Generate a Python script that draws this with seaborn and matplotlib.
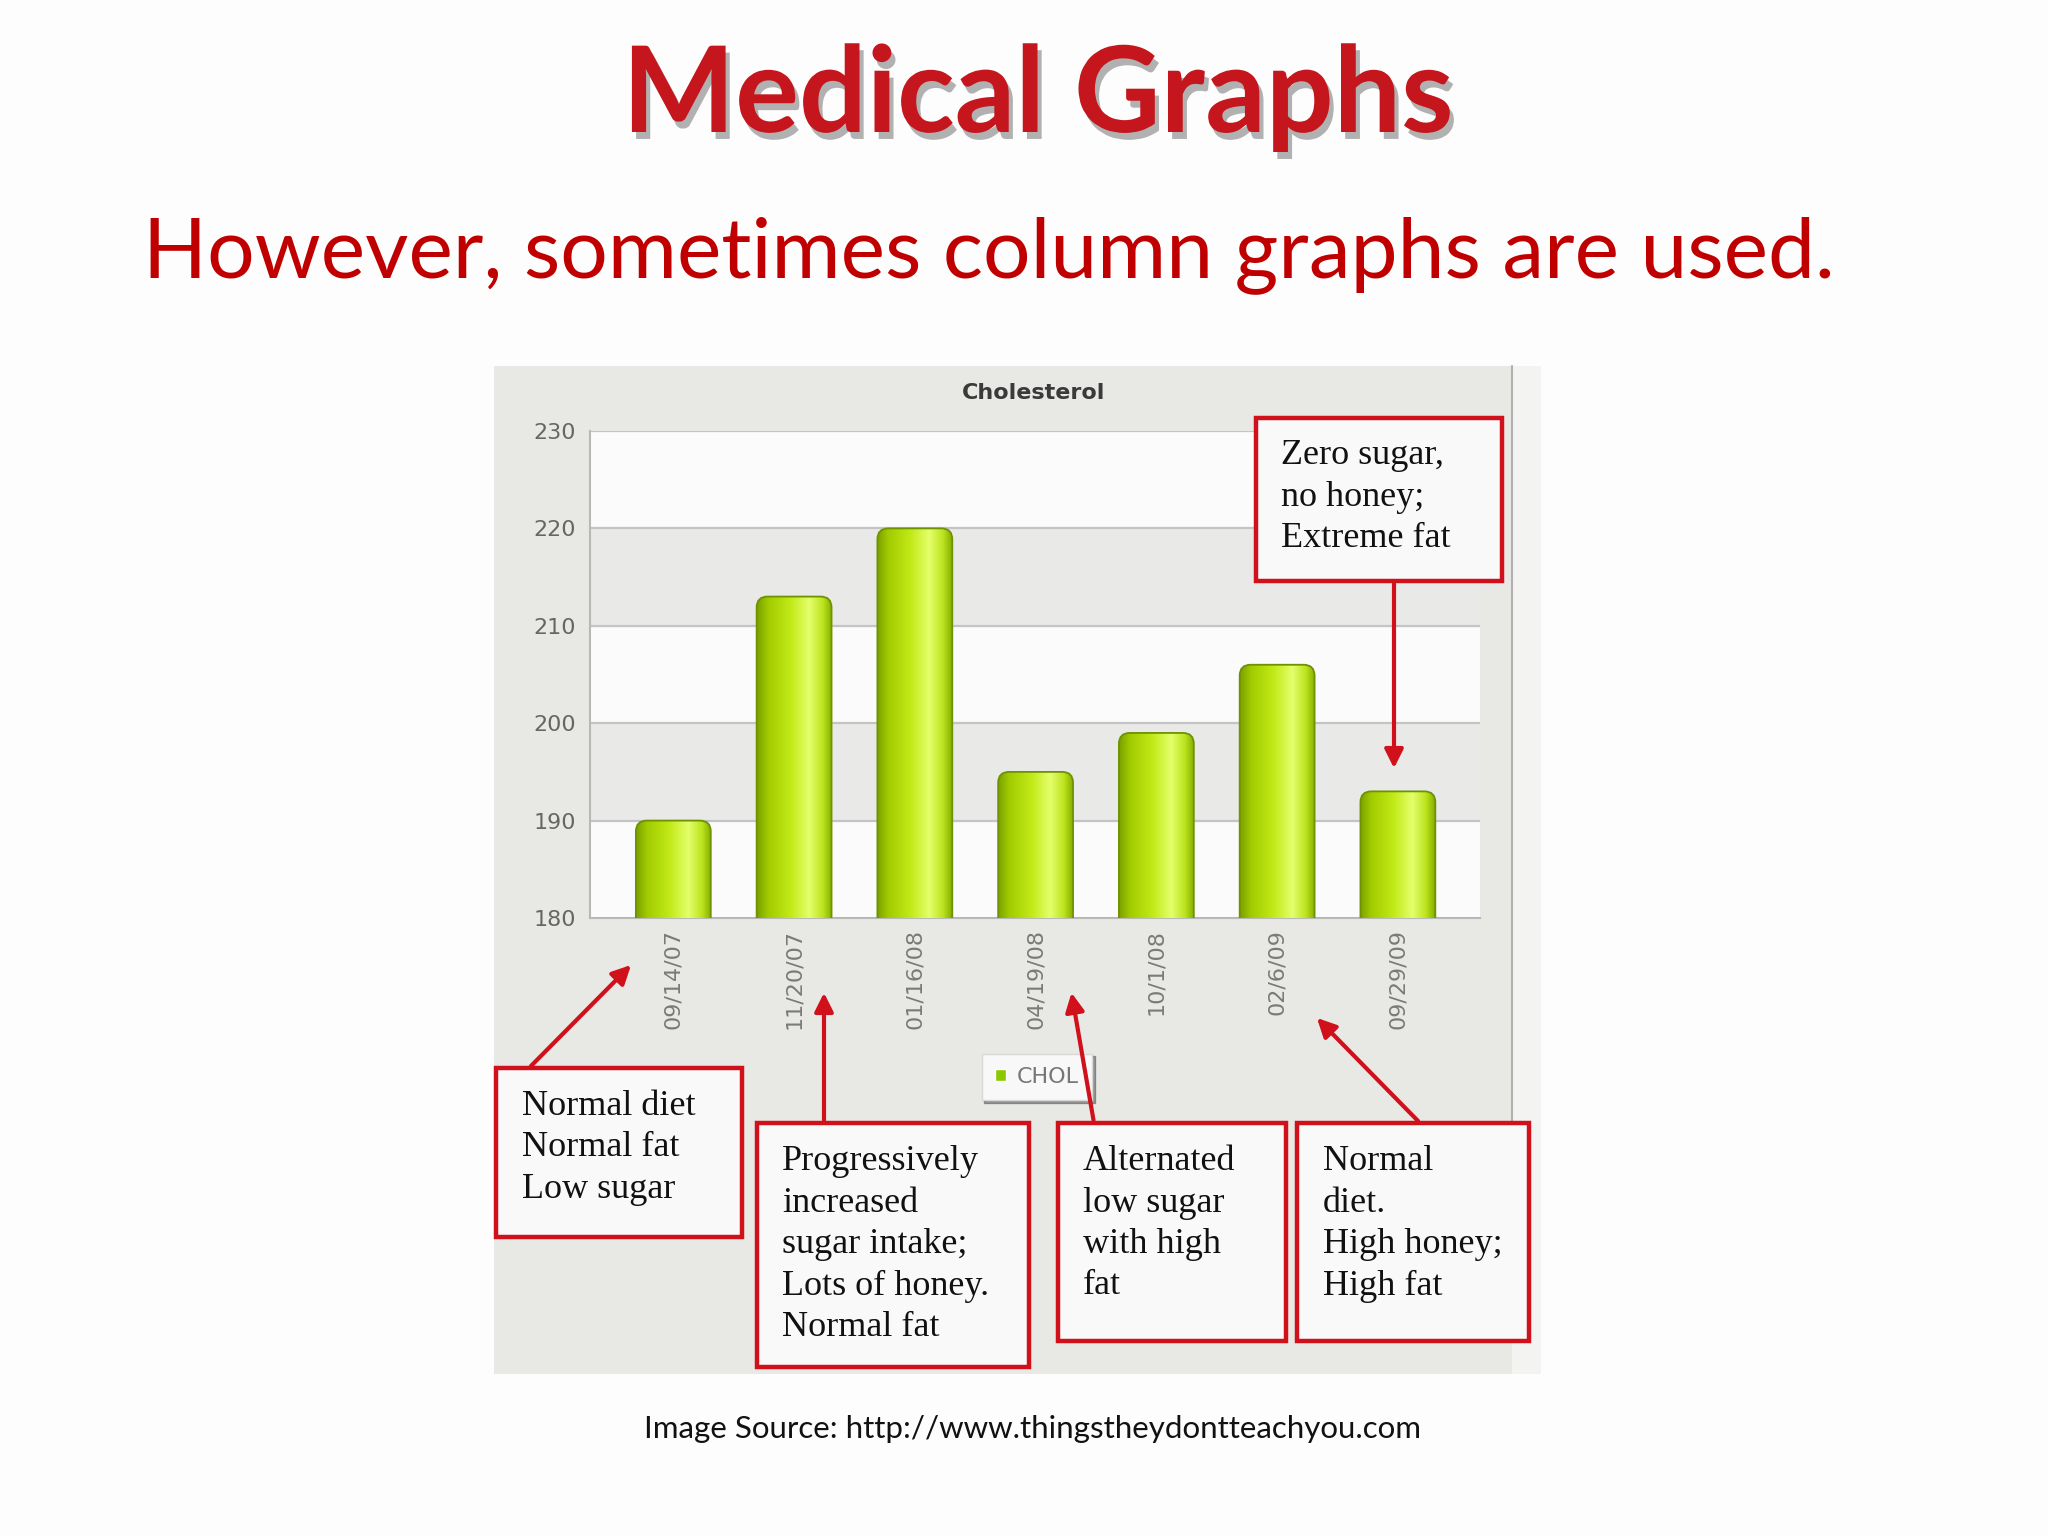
import numpy as np
import pandas as pd
import matplotlib
matplotlib.use("Agg")
import matplotlib.pyplot as plt
import matplotlib.patheffects as pe
import seaborn as sns
from matplotlib.patches import Rectangle, FancyBboxPatch, FancyArrowPatch, Patch
from matplotlib.colors import LinearSegmentedColormap

# Chart data
dates = ['09/14/07', '11/20/07', '01/16/08', '04/19/08', '10/1/08', '02/6/09', '09/29/09']
chol = [190, 213, 220, 195, 199, 206, 193]
y_ticks = [180, 190, 200, 210, 220, 230]

# Callout texts
notes = [
    'Normal diet\nNormal fat\nLow sugar',
    'Progressively\nincreased\nsugar intake;\nLots of honey.\nNormal fat',
    'Alternated\nlow sugar\nwith high\nfat',
    'Normal\ndiet.\nHigh honey;\nHigh fat',
    'Zero sugar,\nno honey;\nExtreme fat',
]

W, H = 2048, 1536


def fx(x):
    return x / W


def fy(y):
    return 1 - y / H


sns.set_style('white')
fig = plt.figure(figsize=(20.48, 15.36), dpi=100, facecolor='#fdfdfd')

# slide titles
fig.text(fx(1038), fy(98), 'Medical Graphs', ha='center', va='center',
         family='Lato', fontweight='bold', fontsize=86, color='#c4161c',
         path_effects=[pe.SimplePatchShadow(offset=(3, -5), shadow_rgbFace='#555555', alpha=0.45),
                       pe.Normal()])
fig.text(fx(989), fy(255), 'However, sometimes column graphs are used.', ha='center', va='center',
         family='Lato', fontsize=60.5, color='#c00000')
fig.text(fx(1032), fy(1429), 'Image Source: http://www.thingstheydontteachyou.com', ha='center',
         va='center', family='Lato', fontsize=22.5, color='#111111')

# gray chart panel
fig.add_artist(Rectangle((fx(494), fy(1374)), 1018 / W, 1008 / H, transform=fig.transFigure,
                         fc='#e8e8e4', ec='none', zorder=-2))
fig.add_artist(Rectangle((fx(1512), fy(1374)), 29 / W, 1008 / H, transform=fig.transFigure,
                         fc='#f3f3f1', ec='none', zorder=-2))
fig.add_artist(plt.Line2D([fx(1512), fx(1512)], [fy(366), fy(1123)], transform=fig.transFigure,
                          color='#b0b0b0', lw=1.5, zorder=-1))

ax = fig.add_axes([fx(590), fy(918), 890 / W, 487 / H])
ax.set_facecolor('#fbfbfb')

df = pd.DataFrame({'date': dates, 'chol': chol})
sns.barplot(data=df, x='date', y='chol', color='#b5dc14', width=0.62, ax=ax, zorder=3)
bars = list(ax.patches)

# alternating bands + grid
for lo in [190, 210]:
    ax.axhspan(lo, lo + 10, facecolor='#e9e9e7', edgecolor='none', zorder=1)
for yv in y_ticks[1:]:
    ax.axhline(yv, color='#c4c4c4', lw=1.6, zorder=1.5)

# cylinder-like gradient with rounded tops
grad = LinearSegmentedColormap.from_list('bar', [
    (0.0, '#7aa000'), (0.15, '#a2cc00'), (0.45, '#c2ea18'),
    (0.7, '#e4ff6c'), (0.88, '#bce41e'), (1.0, '#86b000')])
img = grad(np.linspace(0, 1, 256))[np.newaxis, :, :]
for p in bars:
    x0, w, h = p.get_x(), p.get_width(), p.get_height()
    shape = FancyBboxPatch((x0, 0), w, h, boxstyle='round,pad=0,rounding_size=0.09',
                           mutation_aspect=12.4, fc='none', ec='#6e9200', lw=1.3, zorder=4)
    ax.add_patch(shape)
    im = ax.imshow(img, extent=(x0, x0 + w, 0, h), aspect='auto', zorder=3, interpolation='bilinear')
    im.set_clip_path(shape)
    p.set_visible(False)

ax.set_xlim(-0.69, 6.68)
ax.set_ylim(180, 230)
ax.set_yticks(y_ticks)
ax.set_xlabel('')
ax.set_ylabel('')
ax.tick_params(axis='both', length=0)
ax.tick_params(axis='y', labelsize=16, labelcolor='#666666', pad=10)
ax.tick_params(axis='x', labelsize=16, labelcolor='#7a7a7a', pad=8, rotation=90)
for s in ['top', 'right']:
    ax.spines[s].set_visible(False)
ax.spines['left'].set_color('#b8b8b8')
ax.spines['bottom'].set_color('#b8b8b8')
ax.spines['left'].set_linewidth(1.5)
ax.spines['bottom'].set_linewidth(1.5)

fig.text(fx(1034), fy(393), 'Cholesterol', ha='center', va='center', fontsize=16,
         fontweight='bold', color='#3a3a3a')

ax.legend(handles=[Patch(facecolor='#8cc800', label='CHOL')], loc='center',
          bbox_to_anchor=(fx(1037), fy(1077)), bbox_transform=fig.transFigure,
          fontsize=16, handlelength=0.5, handleheight=0.5, handletextpad=0.5,
          borderpad=0.6, frameon=True, facecolor='#f8f8f8', edgecolor='#d8d8d8', shadow=True,
          labelcolor='#777777', fancybox=False)

# callout boxes (x0, y0, x1, y1 in pixels from top-left), text anchor, arrow
red = '#d0101a'
boxes = [(496, 1068, 742, 1237), (757, 1123, 1029, 1367), (1058, 1123, 1286, 1341),
         (1297, 1123, 1529, 1341), (1256, 418, 1502, 581)]
text_pos = [(522, 1090), (782, 1145), (1083, 1145), (1323, 1145), (1281, 439)]
arrows = [((529, 1068), (633, 963)), ((824, 1123), (824, 990)), ((1094, 1123), (1071, 990)),
          ((1420, 1123), (1315, 1016)), ((1394, 581), (1394, 771))]

for (x0, y0, x1, y1), (tx, ty), note in zip(boxes, text_pos, notes):
    fig.add_artist(Rectangle((fx(x0), fy(y1)), (x1 - x0) / W, (y1 - y0) / H,
                             transform=fig.transFigure, fc='#f9f9f9', ec=red, lw=3.2, zorder=5))
    fig.text(fx(tx), fy(ty), note, ha='left', va='top', family='Liberation Serif',
             fontsize=26, linespacing=1.34, color='#111111', zorder=6)

for (a, b) in arrows:
    fig.add_artist(FancyArrowPatch((fx(a[0]), fy(a[1])), (fx(b[0]), fy(b[1])),
                                   transform=fig.transFigure, arrowstyle='-|>', mutation_scale=28,
                                   color=red, lw=3, zorder=6))

fig.savefig('out.png', dpi=100, facecolor=fig.get_facecolor())
